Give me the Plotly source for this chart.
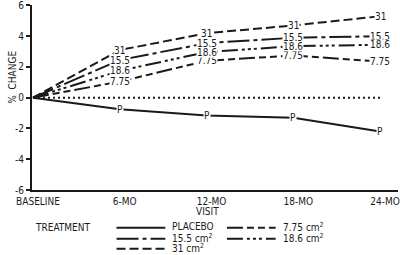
import plotly.graph_objects as go

# ---- data ----
visits = ["BASELINE", "6-MO", "12-MO", "18-MO", "24-MO"]
placebo = [0, -0.75, -1.15, -1.3, -2.2]
dose_775 = [0, 1.05, 2.4, 2.75, 2.35]
dose_155 = [0, 2.45, 3.55, 3.9, 4.0]
dose_186 = [0, 1.75, 2.97, 3.35, 3.45]
dose_31 = [0, 3.1, 4.2, 4.7, 5.3]
zero_line = [0, 0, 0, 0, 0]
y_ticks = [-6, -4, -2, 0, 2, 4, 6]
y_ticktext = ["-6", "-4", "-2", "0", "2", "4", "6"]

# series: (point label, legend label, values, dash)
series = [
    ("P", "PLACEBO", placebo, "solid"),
    ("15.5", "15.5 cm<sup>2</sup>", dose_155, "22px,4px,4px,4px"),
    ("31", "31 cm<sup>2</sup>", dose_31, "9px,4px"),
    ("7.75", "7.75 cm<sup>2</sup>", dose_775, "16px,4px,7px,4px,7px,4px"),
    ("18.6", "18.6 cm<sup>2</sup>", dose_186, "16px,4px,3px,3px,3px,3px,3px,4px"),
]

FONT = "Liberation Sans Narrow, DejaVu Sans Condensed, Arial Narrow, sans-serif"
FS = 10
INK = "#1a1a1a"
W, H = 400, 255
L, R, T, B = 32, 0, 4, 65
PW, PH = W - L - R, H - T - B


def px(x):
    return (x - L) / PW


def py(y):
    return (H - B - y) / PH


xi = list(range(len(visits)))
fig = go.Figure()

fig.add_trace(go.Scatter(x=xi, y=zero_line, mode="lines",
                         line=dict(color=INK, width=2, dash="2px,3px"),
                         showlegend=False, hoverinfo="skip"))

for lab, leg, vals, dash in series:
    fig.add_trace(go.Scatter(x=xi, y=vals, mode="lines",
                             line=dict(color=INK, width=2, dash=dash),
                             showlegend=False))

annotations = []
# point labels
for lab, leg, vals, dash in series:
    for i in range(1, len(visits)):
        annotations.append(dict(x=xi[i], y=vals[i], xref="x", yref="y", text=lab,
                                xanchor="center", yanchor="middle",
                                showarrow=False, bgcolor="white", borderpad=0,
                                height=9, font=dict(family=FONT, size=FS, color=INK)))

# axis titles
annotations.append(dict(x=px(12), y=py(77), xref="paper", yref="paper", text="%&nbsp;&nbsp;CHANGE",
                        xanchor="center", yanchor="middle",
                        textangle=-90, showarrow=False, font=dict(family=FONT, size=FS, color=INK)))
annotations.append(dict(x=px(208), y=py(212), xref="paper", yref="paper", text="VISIT",
                        xanchor="center", yanchor="middle",
                        showarrow=False, font=dict(family=FONT, size=FS, color=INK)))
# legend
annotations.append(dict(x=px(33), y=py(228), xref="paper", yref="paper", text="TREATMENT",
                        xanchor="left", yanchor="middle",
                        showarrow=False, font=dict(family=FONT, size=FS, color=INK)))
shapes = []
col_x = [117, 228]
row_y = [228, 239, 249]
for k, (lab, leg, vals, dash) in enumerate(series):
    c = 0 if k < 3 else 1
    r = k if k < 3 else k - 3
    x0 = col_x[c]
    y0 = row_y[r]
    shapes.append(dict(type="line", xref="paper", yref="paper",
                       x0=px(x0), x1=px(x0 + 49), y0=py(y0), y1=py(y0),
                       line=dict(color=INK, width=2, dash=dash)))
    annotations.append(dict(x=px(x0 + 54), y=py(y0 - 1), xref="paper", yref="paper", text=leg,
                            xanchor="left", yanchor="middle", showarrow=False,
                            font=dict(family=FONT, size=FS, color=INK)))

fig.update_layout(
    width=W, height=H,
    margin=dict(l=L, r=R, t=T, b=B),
    paper_bgcolor="white", plot_bgcolor="white",
    showlegend=False,
    annotations=annotations, shapes=shapes,
    font=dict(family=FONT, size=FS, color=INK),
)
fig.update_xaxes(range=[-0.0115, 4.206], tickvals=xi, ticktext=visits,
                 showgrid=False, zeroline=False, showline=True, linecolor=INK, linewidth=2,
                 ticks="", ticklabelshift=5, ticklabelstandoff=1, ticklabeloverflow="allow",
                 tickfont=dict(family=FONT, size=FS, color=INK))
fig.update_yaxes(range=[-6, 6.03], tickmode="array", tickvals=y_ticks, ticktext=y_ticktext,
                 showgrid=False, zeroline=False, showline=True, linecolor=INK, linewidth=2,
                 ticks="outside", ticklen=4, tickwidth=2, tickcolor=INK, ticklabeloverflow="allow",
                 tickfont=dict(family=FONT, size=FS, color=INK))

fig.write_html("out.html")
